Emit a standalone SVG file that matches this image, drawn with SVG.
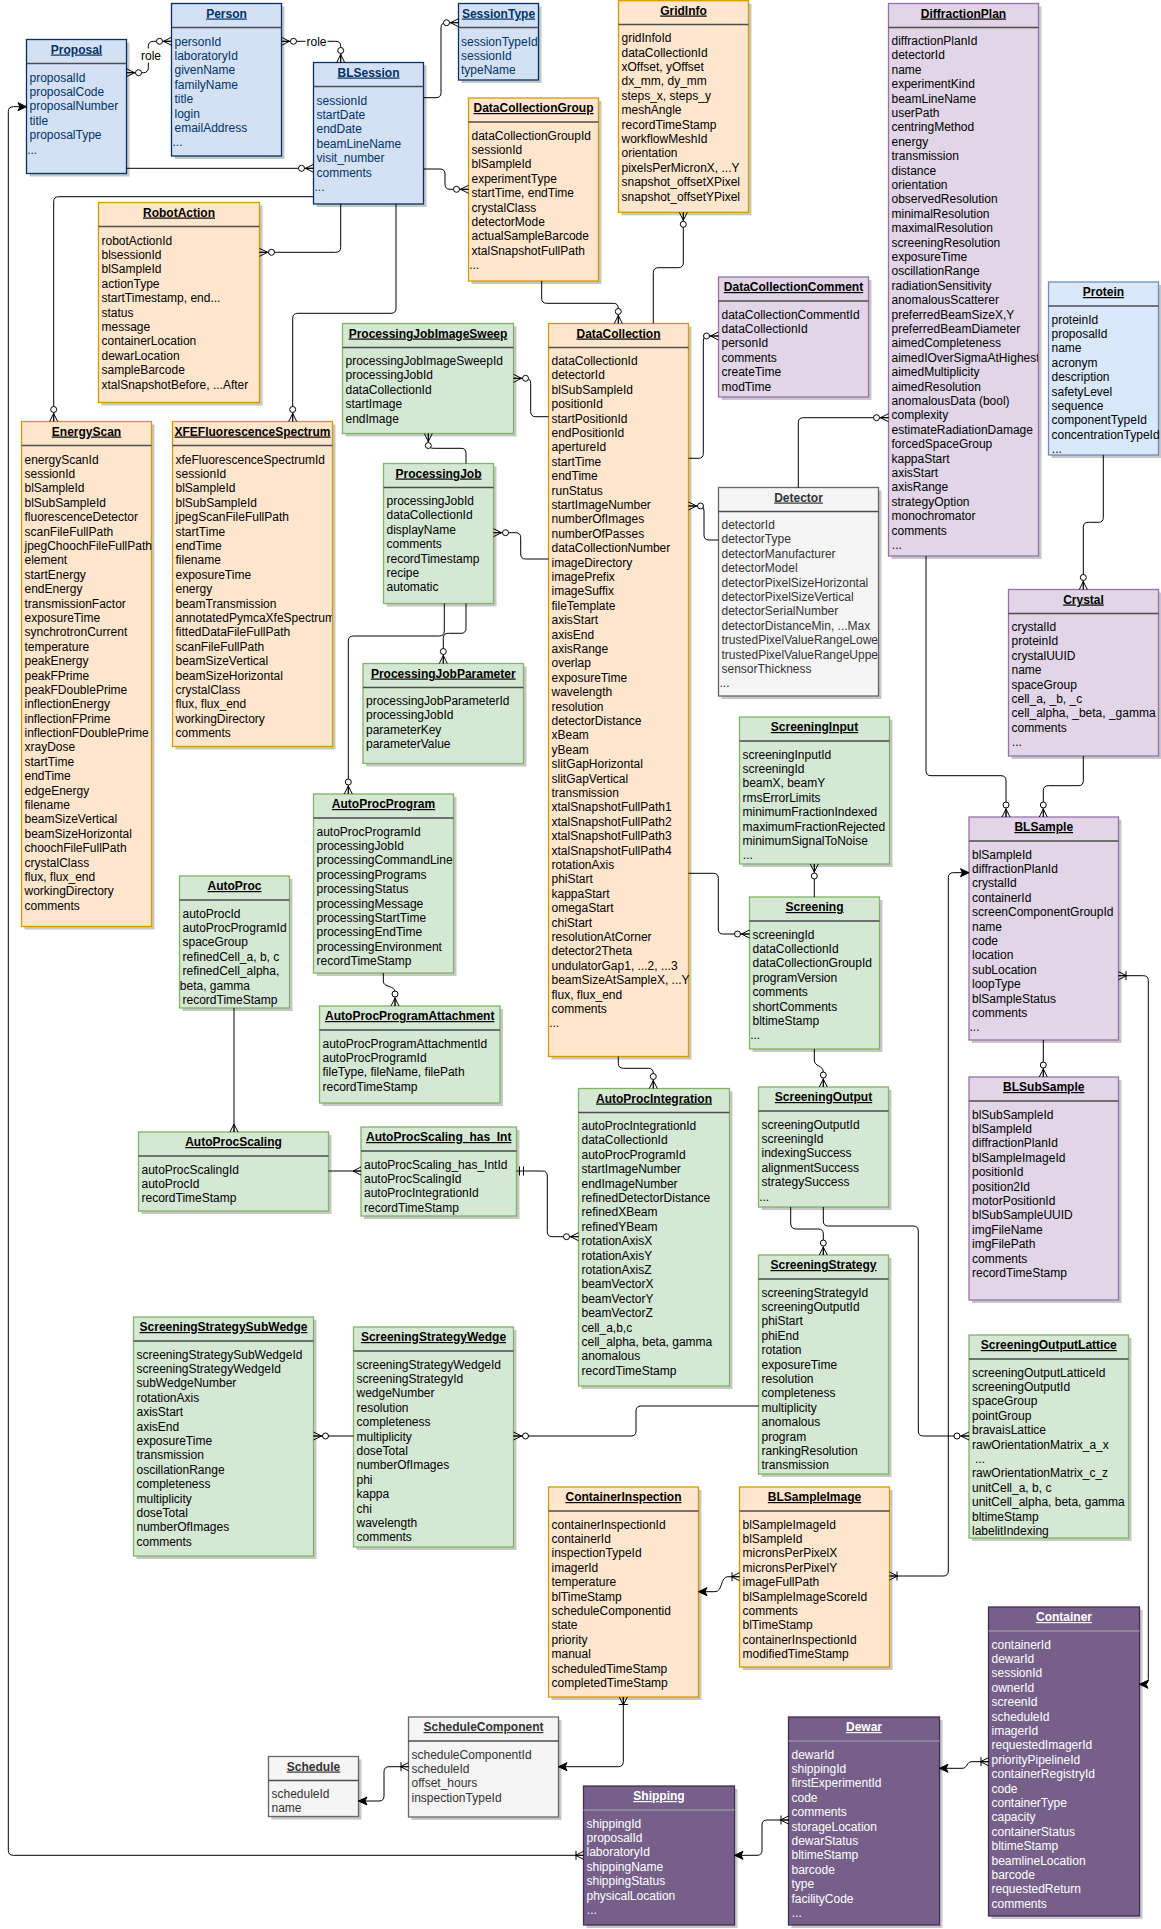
<svg xmlns="http://www.w3.org/2000/svg" width="1161" height="1929" viewBox="0 0 1161 1929">
<style>
text{font-family:"Liberation Sans",Arial,Helvetica,sans-serif;font-size:12px}
.ti{font-weight:bold;text-anchor:middle;text-decoration:underline}
.sh{fill:#000;opacity:.22}
.bx{stroke-width:1.3}
.sp{stroke:#4d4d4d;stroke-width:1.3}
.blue .bx{fill:#d4e1f5;stroke:#003366}.blue text{fill:#003366}
.lblue .bx{fill:#dae8fc;stroke:#6c8ebf}
.orange .bx{fill:#ffe6cc;stroke:#d79b00}
.green .bx{fill:#d5e8d4;stroke:#82b366}
.purple .bx{fill:#e1d5e7;stroke:#9673a6}
.gray .bx{fill:#f5f5f5;stroke:#666}.gray text{fill:#333}
.dpurple .bx{fill:#76608a;stroke:#432d57}.dpurple text{fill:#fff}.dpurple .sp{stroke:#9a8fa6}
.cn path{fill:none;stroke:#000;stroke-width:1}
.mk{fill:none;stroke:#000;stroke-width:1}
.lbbg{fill:#fff}
.lb{text-anchor:middle;fill:#000}
</style>
<defs>
<marker id="zm" markerUnits="userSpaceOnUse" orient="auto-start-reverse" viewBox="-20 -10 24 20" markerWidth="24" markerHeight="20" refX="0" refY="0" overflow="visible">
<path class="mk" d="M0,-4 L-8,0 L0,4 M-8,0 L0,0"/><circle cx="-12" cy="0" r="3" fill="#fff" stroke="#000" stroke-width="1"/>
</marker>
<marker id="om" markerUnits="userSpaceOnUse" orient="auto-start-reverse" viewBox="-20 -10 24 20" markerWidth="24" markerHeight="20" refX="0" refY="0" overflow="visible">
<path class="mk" d="M0,-4 L-8,0 L0,4 M-8,0 L0,0 M-7.5,-4.5 L-7.5,4.5"/>
</marker>
<marker id="mo" markerUnits="userSpaceOnUse" orient="auto-start-reverse" viewBox="-20 -10 24 20" markerWidth="24" markerHeight="20" refX="0" refY="0" overflow="visible">
<path class="mk" d="M-3,-4.5 L-3,4.5 M-7,-4.5 L-7,4.5"/>
</marker>
<marker id="mn" markerUnits="userSpaceOnUse" orient="auto-start-reverse" viewBox="-20 -10 24 20" markerWidth="24" markerHeight="20" refX="0" refY="0" overflow="visible">
<path class="mk" d="M0,-4 L-8,0 L0,4 M-8,0 L0,0"/>
</marker>
<marker id="ar" markerUnits="userSpaceOnUse" orient="auto-start-reverse" viewBox="-20 -10 24 20" markerWidth="24" markerHeight="20" refX="0" refY="0" overflow="visible">
<path d="M0,0 L-8.5,-4 L-6.5,0 L-8.5,4 Z" fill="#000" stroke="#000" stroke-width="1"/>
</marker>
<clipPath id="cXFE"><rect x="172.5" y="446" width="159.5" height="300"/></clipPath>
<clipPath id="cDP"><rect x="888.5" y="28" width="149.5" height="527"/></clipPath>
<clipPath id="cDet"><rect x="718.5" y="512" width="159.5" height="183"/></clipPath>
</defs>
<rect width="1161" height="1929" fill="#fff"/>

<g id="nodes">
<g id="Proposal" class="blue">
<rect class="sh" x="29.5" y="42.5" width="100" height="134"/><rect class="bx" x="26.5" y="39.5" width="100" height="134"/>
<line class="sp" x1="26.5" y1="63.5" x2="126.5" y2="63.5"/>
<text class="ti" x="76.5" y="53.5">Proposal</text>
<text x="29.5" y="81.5"><tspan>proposalId</tspan><tspan x="29.5" dy="14.4">proposalCode</tspan><tspan x="29.5" dy="14.4">proposalNumber</tspan><tspan x="29.5" dy="14.4">title</tspan><tspan x="29.5" dy="14.4">proposalType</tspan><tspan x="27.2" dy="14.4">...</tspan></text>
</g>
<g id="Person" class="blue">
<rect class="sh" x="174.5" y="6.5" width="110" height="152.5"/><rect class="bx" x="171.5" y="3.5" width="110" height="152.5"/>
<line class="sp" x1="171.5" y1="27.5" x2="281.5" y2="27.5"/>
<text class="ti" x="226.5" y="17.5">Person</text>
<text x="174.5" y="45.5"><tspan>personId</tspan><tspan x="174.5" dy="14.4">laboratoryId</tspan><tspan x="174.5" dy="14.4">givenName</tspan><tspan x="174.5" dy="14.4">familyName</tspan><tspan x="174.5" dy="14.4">title</tspan><tspan x="174.5" dy="14.4">login</tspan><tspan x="174.5" dy="14.4">emailAddress</tspan><tspan x="172.5" dy="14.4">...</tspan></text>
</g>
<g id="BLSession" class="blue">
<rect class="sh" x="316.5" y="65.5" width="110" height="141.5"/><rect class="bx" x="313.5" y="62.5" width="110" height="141.5"/>
<line class="sp" x1="313.5" y1="86.5" x2="423.5" y2="86.5"/>
<text class="ti" x="368.5" y="76.5">BLSession</text>
<text x="316.5" y="104.5"><tspan>sessionId</tspan><tspan x="316.5" dy="14.4">startDate</tspan><tspan x="316.5" dy="14.4">endDate</tspan><tspan x="316.5" dy="14.4">beamLineName</tspan><tspan x="316.5" dy="14.4">visit_number</tspan><tspan x="316.5" dy="14.4">comments</tspan><tspan x="314.5" dy="14.4">...</tspan></text>
</g>
<g id="SessionType" class="blue">
<rect class="sh" x="461.5" y="6.5" width="80" height="76.5"/><rect class="bx" x="458.5" y="3.5" width="80" height="76.5"/>
<line class="sp" x1="458.5" y1="27.5" x2="538.5" y2="27.5"/>
<text class="ti" x="498.5" y="17.5">SessionType</text>
<text x="461" y="45.5"><tspan>sessionTypeId</tspan><tspan x="461" dy="14.4">sessionId</tspan><tspan x="461" dy="14.4">typeName</tspan></text>
</g>
<g id="RobotAction" class="orange">
<rect class="sh" x="101.5" y="205.5" width="161" height="200"/><rect class="bx" x="98.5" y="202.5" width="161" height="200"/>
<line class="sp" x1="98.5" y1="226.5" x2="259.5" y2="226.5"/>
<text class="ti" x="179" y="216.5">RobotAction</text>
<text x="101.5" y="244.5"><tspan>robotActionId</tspan><tspan x="101.5" dy="14.4">blsessionId</tspan><tspan x="101.5" dy="14.4">blSampleId</tspan><tspan x="101.5" dy="14.4">actionType</tspan><tspan x="101.5" dy="14.4">startTimestamp, end...</tspan><tspan x="101.5" dy="14.4">status</tspan><tspan x="101.5" dy="14.4">message</tspan><tspan x="101.5" dy="14.4">containerLocation</tspan><tspan x="101.5" dy="14.4">dewarLocation</tspan><tspan x="101.5" dy="14.4">sampleBarcode</tspan><tspan x="101.5" dy="14.4">xtalSnapshotBefore, ...After</tspan></text>
</g>
<g id="EnergyScan" class="orange">
<rect class="sh" x="24.5" y="424.5" width="130" height="505"/><rect class="bx" x="21.5" y="421.5" width="130" height="505"/>
<line class="sp" x1="21.5" y1="445.5" x2="151.5" y2="445.5"/>
<text class="ti" x="86.5" y="435.5">EnergyScan</text>
<text x="24.5" y="463.5"><tspan>energyScanId</tspan><tspan x="24.5" dy="14.4">sessionId</tspan><tspan x="24.5" dy="14.4">blSampleId</tspan><tspan x="24.5" dy="14.4">blSubSampleId</tspan><tspan x="24.5" dy="14.4">fluorescenceDetector</tspan><tspan x="24.5" dy="14.4">scanFileFullPath</tspan><tspan x="24.5" dy="14.4">jpegChoochFileFullPath</tspan><tspan x="24.5" dy="14.4">element</tspan><tspan x="24.5" dy="14.4">startEnergy</tspan><tspan x="24.5" dy="14.4">endEnergy</tspan><tspan x="24.5" dy="14.4">transmissionFactor</tspan><tspan x="24.5" dy="14.4">exposureTime</tspan><tspan x="24.5" dy="14.4">synchrotronCurrent</tspan><tspan x="24.5" dy="14.4">temperature</tspan><tspan x="24.5" dy="14.4">peakEnergy</tspan><tspan x="24.5" dy="14.4">peakFPrime</tspan><tspan x="24.5" dy="14.4">peakFDoublePrime</tspan><tspan x="24.5" dy="14.4">inflectionEnergy</tspan><tspan x="24.5" dy="14.4">inflectionFPrime</tspan><tspan x="24.5" dy="14.4">inflectionFDoublePrime</tspan><tspan x="24.5" dy="14.4">xrayDose</tspan><tspan x="24.5" dy="14.4">startTime</tspan><tspan x="24.5" dy="14.4">endTime</tspan><tspan x="24.5" dy="14.4">edgeEnergy</tspan><tspan x="24.5" dy="14.4">filename</tspan><tspan x="24.5" dy="14.4">beamSizeVertical</tspan><tspan x="24.5" dy="14.4">beamSizeHorizontal</tspan><tspan x="24.5" dy="14.4">choochFileFullPath</tspan><tspan x="24.5" dy="14.4">crystalClass</tspan><tspan x="24.5" dy="14.4">flux, flux_end</tspan><tspan x="24.5" dy="14.4">workingDirectory</tspan><tspan x="24.5" dy="14.4">comments</tspan></text>
</g>
<g id="XFEFluorescenceSpectrum" class="orange">
<rect class="sh" x="175.5" y="424.5" width="160" height="325"/><rect class="bx" x="172.5" y="421.5" width="160" height="325"/>
<line class="sp" x1="172.5" y1="445.5" x2="332.5" y2="445.5"/>
<text class="ti" x="252.5" y="435.5">XFEFluorescenceSpectrum</text>
<text x="175.5" y="463.5" clip-path="url(#cXFE)"><tspan>xfeFluorescenceSpectrumId</tspan><tspan x="175.5" dy="14.4">sessionId</tspan><tspan x="175.5" dy="14.4">blSampleId</tspan><tspan x="175.5" dy="14.4">blSubSampleId</tspan><tspan x="175.5" dy="14.4">jpegScanFileFullPath</tspan><tspan x="175.5" dy="14.4">startTime</tspan><tspan x="175.5" dy="14.4">endTime</tspan><tspan x="175.5" dy="14.4">filename</tspan><tspan x="175.5" dy="14.4">exposureTime</tspan><tspan x="175.5" dy="14.4">energy</tspan><tspan x="175.5" dy="14.4">beamTransmission</tspan><tspan x="175.5" dy="14.4">annotatedPymcaXfeSpectrum</tspan><tspan x="175.5" dy="14.4">fittedDataFileFullPath</tspan><tspan x="175.5" dy="14.4">scanFileFullPath</tspan><tspan x="175.5" dy="14.4">beamSizeVertical</tspan><tspan x="175.5" dy="14.4">beamSizeHorizontal</tspan><tspan x="175.5" dy="14.4">crystalClass</tspan><tspan x="175.5" dy="14.4">flux, flux_end</tspan><tspan x="175.5" dy="14.4">workingDirectory</tspan><tspan x="175.5" dy="14.4">comments</tspan></text>
</g>
<g id="DataCollectionGroup" class="orange">
<rect class="sh" x="471.5" y="101" width="130" height="183"/><rect class="bx" x="468.5" y="98" width="130" height="183"/>
<line class="sp" x1="468.5" y1="122" x2="598.5" y2="122"/>
<text class="ti" x="533.5" y="112">DataCollectionGroup</text>
<text x="471.5" y="139.5"><tspan>dataCollectionGroupId</tspan><tspan x="471.5" dy="14.4">sessionId</tspan><tspan x="471.5" dy="14.4">blSampleId</tspan><tspan x="471.5" dy="14.4">experimentType</tspan><tspan x="471.5" dy="14.4">startTime, endTime</tspan><tspan x="471.5" dy="14.4">crystalClass</tspan><tspan x="471.5" dy="14.4">detectorMode</tspan><tspan x="471.5" dy="14.4">actualSampleBarcode</tspan><tspan x="471.5" dy="14.4">xtalSnapshotFullPath</tspan><tspan x="469.2" dy="14.4">...</tspan></text>
</g>
<g id="GridInfo" class="orange">
<rect class="sh" x="621.5" y="3.7" width="130" height="211.6"/><rect class="bx" x="618.5" y="0.7" width="130" height="211.6"/>
<line class="sp" x1="618.5" y1="24.5" x2="748.5" y2="24.5"/>
<text class="ti" x="683.5" y="14.5">GridInfo</text>
<text x="621.5" y="42.2"><tspan>gridInfoId</tspan><tspan x="621.5" dy="14.4">dataCollectionId</tspan><tspan x="621.5" dy="14.4">xOffset, yOffset</tspan><tspan x="621.5" dy="14.4">dx_mm, dy_mm</tspan><tspan x="621.5" dy="14.4">steps_x, steps_y</tspan><tspan x="621.5" dy="14.4">meshAngle</tspan><tspan x="621.5" dy="14.4">recordTimeStamp</tspan><tspan x="621.5" dy="14.4">workflowMeshId</tspan><tspan x="621.5" dy="14.4">orientation</tspan><tspan x="621.5" dy="14.4">pixelsPerMicronX, ...Y</tspan><tspan x="621.5" dy="14.4">snapshot_offsetXPixel</tspan><tspan x="621.5" dy="14.4">snapshot_offsetYPixel</tspan></text>
</g>
<g id="DataCollection" class="orange">
<rect class="sh" x="551.5" y="326.5" width="140" height="733"/><rect class="bx" x="548.5" y="323.5" width="140" height="733"/>
<line class="sp" x1="548.5" y1="347.5" x2="688.5" y2="347.5"/>
<text class="ti" x="618.5" y="337.5">DataCollection</text>
<text x="551.5" y="365"><tspan>dataCollectionId</tspan><tspan x="551.5" dy="14.4">detectorId</tspan><tspan x="551.5" dy="14.4">blSubSampleId</tspan><tspan x="551.5" dy="14.4">positionId</tspan><tspan x="551.5" dy="14.4">startPositionId</tspan><tspan x="551.5" dy="14.4">endPositionId</tspan><tspan x="551.5" dy="14.4">apertureId</tspan><tspan x="551.5" dy="14.4">startTime</tspan><tspan x="551.5" dy="14.4">endTime</tspan><tspan x="551.5" dy="14.4">runStatus</tspan><tspan x="551.5" dy="14.4">startImageNumber</tspan><tspan x="551.5" dy="14.4">numberOfImages</tspan><tspan x="551.5" dy="14.4">numberOfPasses</tspan><tspan x="551.5" dy="14.4">dataCollectionNumber</tspan><tspan x="551.5" dy="14.4">imageDirectory</tspan><tspan x="551.5" dy="14.4">imagePrefix</tspan><tspan x="551.5" dy="14.4">imageSuffix</tspan><tspan x="551.5" dy="14.4">fileTemplate</tspan><tspan x="551.5" dy="14.4">axisStart</tspan><tspan x="551.5" dy="14.4">axisEnd</tspan><tspan x="551.5" dy="14.4">axisRange</tspan><tspan x="551.5" dy="14.4">overlap</tspan><tspan x="551.5" dy="14.4">exposureTime</tspan><tspan x="551.5" dy="14.4">wavelength</tspan><tspan x="551.5" dy="14.4">resolution</tspan><tspan x="551.5" dy="14.4">detectorDistance</tspan><tspan x="551.5" dy="14.4">xBeam</tspan><tspan x="551.5" dy="14.4">yBeam</tspan><tspan x="551.5" dy="14.4">slitGapHorizontal</tspan><tspan x="551.5" dy="14.4">slitGapVertical</tspan><tspan x="551.5" dy="14.4">transmission</tspan><tspan x="551.5" dy="14.4">xtalSnapshotFullPath1</tspan><tspan x="551.5" dy="14.4">xtalSnapshotFullPath2</tspan><tspan x="551.5" dy="14.4">xtalSnapshotFullPath3</tspan><tspan x="551.5" dy="14.4">xtalSnapshotFullPath4</tspan><tspan x="551.5" dy="14.4">rotationAxis</tspan><tspan x="551.5" dy="14.4">phiStart</tspan><tspan x="551.5" dy="14.4">kappaStart</tspan><tspan x="551.5" dy="14.4">omegaStart</tspan><tspan x="551.5" dy="14.4">chiStart</tspan><tspan x="551.5" dy="14.4">resolutionAtCorner</tspan><tspan x="551.5" dy="14.4">detector2Theta</tspan><tspan x="551.5" dy="14.4">undulatorGap1, ...2, ...3</tspan><tspan x="551.5" dy="14.4">beamSizeAtSampleX, ...Y</tspan><tspan x="551.5" dy="14.4">flux, flux_end</tspan><tspan x="551.5" dy="14.4">comments</tspan><tspan x="549.2" dy="14.4">...</tspan></text>
</g>
<g id="DataCollectionComment" class="purple">
<rect class="sh" x="721.5" y="280" width="150" height="120"/><rect class="bx" x="718.5" y="277" width="150" height="120"/>
<line class="sp" x1="718.5" y1="301" x2="868.5" y2="301"/>
<text class="ti" x="793.5" y="291">DataCollectionComment</text>
<text x="721.5" y="318.5"><tspan>dataCollectionCommentId</tspan><tspan x="721.5" dy="14.4">dataCollectionId</tspan><tspan x="721.5" dy="14.4">personId</tspan><tspan x="721.5" dy="14.4">comments</tspan><tspan x="721.5" dy="14.4">createTime</tspan><tspan x="721.5" dy="14.4">modTime</tspan></text>
</g>
<g id="DiffractionPlan" class="purple">
<rect class="sh" x="891.5" y="6.5" width="150" height="552.5"/><rect class="bx" x="888.5" y="3.5" width="150" height="552.5"/>
<line class="sp" x1="888.5" y1="27.5" x2="1038.5" y2="27.5"/>
<text class="ti" x="963.5" y="17.5">DiffractionPlan</text>
<text x="891.5" y="45" clip-path="url(#cDP)"><tspan>diffractionPlanId</tspan><tspan x="891.5" dy="14.4">detectorId</tspan><tspan x="891.5" dy="14.4">name</tspan><tspan x="891.5" dy="14.4">experimentKind</tspan><tspan x="891.5" dy="14.4">beamLineName</tspan><tspan x="891.5" dy="14.4">userPath</tspan><tspan x="891.5" dy="14.4">centringMethod</tspan><tspan x="891.5" dy="14.4">energy</tspan><tspan x="891.5" dy="14.4">transmission</tspan><tspan x="891.5" dy="14.4">distance</tspan><tspan x="891.5" dy="14.4">orientation</tspan><tspan x="891.5" dy="14.4">observedResolution</tspan><tspan x="891.5" dy="14.4">minimalResolution</tspan><tspan x="891.5" dy="14.4">maximalResolution</tspan><tspan x="891.5" dy="14.4">screeningResolution</tspan><tspan x="891.5" dy="14.4">exposureTime</tspan><tspan x="891.5" dy="14.4">oscillationRange</tspan><tspan x="891.5" dy="14.4">radiationSensitivity</tspan><tspan x="891.5" dy="14.4">anomalousScatterer</tspan><tspan x="891.5" dy="14.4">preferredBeamSizeX,Y</tspan><tspan x="891.5" dy="14.4">preferredBeamDiameter</tspan><tspan x="891.5" dy="14.4">aimedCompleteness</tspan><tspan x="891.5" dy="14.4">aimedIOverSigmaAtHighest</tspan><tspan x="891.5" dy="14.4">aimedMultiplicity</tspan><tspan x="891.5" dy="14.4">aimedResolution</tspan><tspan x="891.5" dy="14.4">anomalousData (bool)</tspan><tspan x="891.5" dy="14.4">complexity</tspan><tspan x="891.5" dy="14.4">estimateRadiationDamage</tspan><tspan x="891.5" dy="14.4">forcedSpaceGroup</tspan><tspan x="891.5" dy="14.4">kappaStart</tspan><tspan x="891.5" dy="14.4">axisStart</tspan><tspan x="891.5" dy="14.4">axisRange</tspan><tspan x="891.5" dy="14.4">strategyOption</tspan><tspan x="891.5" dy="14.4">monochromator</tspan><tspan x="891.5" dy="14.4">comments</tspan><tspan x="891.8" dy="14.4">...</tspan></text>
</g>
<g id="Protein" class="lblue">
<rect class="sh" x="1051.5" y="285" width="110" height="173"/><rect class="bx" x="1048.5" y="282" width="110" height="173"/>
<line class="sp" x1="1048.5" y1="306" x2="1158.5" y2="306"/>
<text class="ti" x="1103.5" y="296">Protein</text>
<text x="1051.5" y="323.5"><tspan>proteinId</tspan><tspan x="1051.5" dy="14.4">proposalId</tspan><tspan x="1051.5" dy="14.4">name</tspan><tspan x="1051.5" dy="14.4">acronym</tspan><tspan x="1051.5" dy="14.4">description</tspan><tspan x="1051.5" dy="14.4">safetyLevel</tspan><tspan x="1051.5" dy="14.4">sequence</tspan><tspan x="1051.5" dy="14.4">componentTypeId</tspan><tspan x="1051.5" dy="14.4">concentrationTypeId</tspan><tspan x="1051.8" dy="14.4">...</tspan></text>
</g>
<g id="ProcessingJobImageSweep" class="green">
<rect class="sh" x="345.5" y="326.5" width="171" height="110"/><rect class="bx" x="342.5" y="323.5" width="171" height="110"/>
<line class="sp" x1="342.5" y1="347.5" x2="513.5" y2="347.5"/>
<text class="ti" x="428" y="337.5">ProcessingJobImageSweep</text>
<text x="345.5" y="365"><tspan>processingJobImageSweepId</tspan><tspan x="345.5" dy="14.4">processingJobId</tspan><tspan x="345.5" dy="14.4">dataCollectionId</tspan><tspan x="345.5" dy="14.4">startImage</tspan><tspan x="345.5" dy="14.4">endImage</tspan></text>
</g>
<g id="ProcessingJob" class="green">
<rect class="sh" x="386.5" y="466.5" width="110" height="140"/><rect class="bx" x="383.5" y="463.5" width="110" height="140"/>
<line class="sp" x1="383.5" y1="487.5" x2="493.5" y2="487.5"/>
<text class="ti" x="438.5" y="477.5">ProcessingJob</text>
<text x="386.5" y="505"><tspan>processingJobId</tspan><tspan x="386.5" dy="14.4">dataCollectionId</tspan><tspan x="386.5" dy="14.4">displayName</tspan><tspan x="386.5" dy="14.4">comments</tspan><tspan x="386.5" dy="14.4">recordTimestamp</tspan><tspan x="386.5" dy="14.4">recipe</tspan><tspan x="386.5" dy="14.4">automatic</tspan></text>
</g>
<g id="ProcessingJobParameter" class="green">
<rect class="sh" x="366" y="666.5" width="160.5" height="100"/><rect class="bx" x="363" y="663.5" width="160.5" height="100"/>
<line class="sp" x1="363" y1="687.5" x2="523.5" y2="687.5"/>
<text class="ti" x="443.25" y="677.5">ProcessingJobParameter</text>
<text x="366" y="705"><tspan>processingJobParameterId</tspan><tspan x="366" dy="14.4">processingJobId</tspan><tspan x="366" dy="14.4">parameterKey</tspan><tspan x="366" dy="14.4">parameterValue</tspan></text>
</g>
<g id="Detector" class="gray">
<rect class="sh" x="721.5" y="490.5" width="160" height="208.5"/><rect class="bx" x="718.5" y="487.5" width="160" height="208.5"/>
<line class="sp" x1="718.5" y1="511.5" x2="878.5" y2="511.5"/>
<text class="ti" x="798.5" y="501.5">Detector</text>
<text x="721.5" y="529" clip-path="url(#cDet)"><tspan>detectorId</tspan><tspan x="721.5" dy="14.4">detectorType</tspan><tspan x="721.5" dy="14.4">detectorManufacturer</tspan><tspan x="721.5" dy="14.4">detectorModel</tspan><tspan x="721.5" dy="14.4">detectorPixelSizeHorizontal</tspan><tspan x="721.5" dy="14.4">detectorPixelSizeVertical</tspan><tspan x="721.5" dy="14.4">detectorSerialNumber</tspan><tspan x="721.5" dy="14.4">detectorDistanceMin, ...Max</tspan><tspan x="721.5" dy="14.4">trustedPixelValueRangeLower</tspan><tspan x="721.5" dy="14.4">trustedPixelValueRangeUpper</tspan><tspan x="721.5" dy="14.4">sensorThickness</tspan><tspan x="719.5" dy="14.4">...</tspan></text>
</g>
<g id="ScreeningInput" class="green">
<rect class="sh" x="742.5" y="720" width="150" height="147"/><rect class="bx" x="739.5" y="717" width="150" height="147"/>
<line class="sp" x1="739.5" y1="741" x2="889.5" y2="741"/>
<text class="ti" x="814.5" y="731">ScreeningInput</text>
<text x="742.5" y="758.5"><tspan>screeningInputId</tspan><tspan x="742.5" dy="14.4">screeningId</tspan><tspan x="742.5" dy="14.4">beamX, beamY</tspan><tspan x="742.5" dy="14.4">rmsErrorLimits</tspan><tspan x="742.5" dy="14.4">minimumFractionIndexed</tspan><tspan x="742.5" dy="14.4">maximumFractionRejected</tspan><tspan x="742.5" dy="14.4">minimumSignalToNoise</tspan><tspan x="742.8" dy="14.4">...</tspan></text>
</g>
<g id="Screening" class="green">
<rect class="sh" x="752.5" y="900" width="130" height="152"/><rect class="bx" x="749.5" y="897" width="130" height="152"/>
<line class="sp" x1="749.5" y1="921" x2="879.5" y2="921"/>
<text class="ti" x="814.5" y="911">Screening</text>
<text x="752.5" y="938.5"><tspan>screeningId</tspan><tspan x="752.5" dy="14.4">dataCollectionId</tspan><tspan x="752.5" dy="14.4">dataCollectionGroupId</tspan><tspan x="752.5" dy="14.4">programVersion</tspan><tspan x="752.5" dy="14.4">comments</tspan><tspan x="752.5" dy="14.4">shortComments</tspan><tspan x="752.5" dy="14.4">bltimeStamp</tspan><tspan x="750.2" dy="14.4">...</tspan></text>
</g>
<g id="Crystal" class="purple">
<rect class="sh" x="1011.5" y="592.5" width="150" height="166.5"/><rect class="bx" x="1008.5" y="589.5" width="150" height="166.5"/>
<line class="sp" x1="1008.5" y1="613.5" x2="1158.5" y2="613.5"/>
<text class="ti" x="1083.5" y="603.5">Crystal</text>
<text x="1011.5" y="631"><tspan>crystalId</tspan><tspan x="1011.5" dy="14.4">proteinId</tspan><tspan x="1011.5" dy="14.4">crystalUUID</tspan><tspan x="1011.5" dy="14.4">name</tspan><tspan x="1011.5" dy="14.4">spaceGroup</tspan><tspan x="1011.5" dy="14.4">cell_a, _b, _c</tspan><tspan x="1011.5" dy="14.4">cell_alpha, _beta, _gamma</tspan><tspan x="1011.5" dy="14.4">comments</tspan><tspan x="1011.8" dy="14.4">...</tspan></text>
</g>
<g id="BLSample" class="purple">
<rect class="sh" x="972" y="820" width="149.5" height="223"/><rect class="bx" x="969" y="817" width="149.5" height="223"/>
<line class="sp" x1="969" y1="841" x2="1118.5" y2="841"/>
<text class="ti" x="1043.75" y="831">BLSample</text>
<text x="972" y="858.5"><tspan>blSampleId</tspan><tspan x="972" dy="14.4">diffractionPlanId</tspan><tspan x="972" dy="14.4">crystalId</tspan><tspan x="972" dy="14.4">containerId</tspan><tspan x="972" dy="14.4">screenComponentGroupId</tspan><tspan x="972" dy="14.4">name</tspan><tspan x="972" dy="14.4">code</tspan><tspan x="972" dy="14.4">location</tspan><tspan x="972" dy="14.4">subLocation</tspan><tspan x="972" dy="14.4">loopType</tspan><tspan x="972" dy="14.4">blSampleStatus</tspan><tspan x="972" dy="14.4">comments</tspan><tspan x="969.5" dy="14.4">...</tspan></text>
</g>
<g id="BLSubSample" class="purple">
<rect class="sh" x="972" y="1080" width="149.5" height="223"/><rect class="bx" x="969" y="1077" width="149.5" height="223"/>
<line class="sp" x1="969" y1="1101" x2="1118.5" y2="1101"/>
<text class="ti" x="1043.75" y="1091">BLSubSample</text>
<text x="972" y="1118.5"><tspan>blSubSampleId</tspan><tspan x="972" dy="14.4">blSampleId</tspan><tspan x="972" dy="14.4">diffractionPlanId</tspan><tspan x="972" dy="14.4">blSampleImageId</tspan><tspan x="972" dy="14.4">positionId</tspan><tspan x="972" dy="14.4">position2Id</tspan><tspan x="972" dy="14.4">motorPositionId</tspan><tspan x="972" dy="14.4">blSubSampleUUID</tspan><tspan x="972" dy="14.4">imgFileName</tspan><tspan x="972" dy="14.4">imgFilePath</tspan><tspan x="972" dy="14.4">comments</tspan><tspan x="972" dy="14.4">recordTimeStamp</tspan></text>
</g>
<g id="AutoProc" class="green">
<rect class="sh" x="182.5" y="879" width="110" height="132"/><rect class="bx" x="179.5" y="876" width="110" height="132"/>
<line class="sp" x1="179.5" y1="900" x2="289.5" y2="900"/>
<text class="ti" x="234.5" y="890">AutoProc</text>
<text x="182.5" y="917.5"><tspan>autoProcId</tspan><tspan x="182.5" dy="14.4">autoProcProgramId</tspan><tspan x="182.5" dy="14.4">spaceGroup</tspan><tspan x="182.5" dy="14.4">refinedCell_a, b, c</tspan><tspan x="182.5" dy="14.4">refinedCell_alpha,</tspan><tspan x="179.8" dy="14.4">beta, gamma</tspan><tspan x="182.5" dy="14.4">recordTimeStamp</tspan></text>
</g>
<g id="AutoProcProgram" class="green">
<rect class="sh" x="316.5" y="797" width="140" height="179"/><rect class="bx" x="313.5" y="794" width="140" height="179"/>
<line class="sp" x1="313.5" y1="818" x2="453.5" y2="818"/>
<text class="ti" x="383.5" y="808">AutoProcProgram</text>
<text x="316.5" y="835.5"><tspan>autoProcProgramId</tspan><tspan x="316.5" dy="14.4">processingJobId</tspan><tspan x="316.5" dy="14.4">processingCommandLine</tspan><tspan x="316.5" dy="14.4">processingPrograms</tspan><tspan x="316.5" dy="14.4">processingStatus</tspan><tspan x="316.5" dy="14.4">processingMessage</tspan><tspan x="316.5" dy="14.4">processingStartTime</tspan><tspan x="316.5" dy="14.4">processingEndTime</tspan><tspan x="316.5" dy="14.4">processingEnvironment</tspan><tspan x="316.5" dy="14.4">recordTimeStamp</tspan></text>
</g>
<g id="AutoProcProgramAttachment" class="green">
<rect class="sh" x="322.5" y="1009" width="180.5" height="97"/><rect class="bx" x="319.5" y="1006" width="180.5" height="97"/>
<line class="sp" x1="319.5" y1="1030" x2="500" y2="1030"/>
<text class="ti" x="409.75" y="1020">AutoProcProgramAttachment</text>
<text x="322.5" y="1047.5"><tspan>autoProcProgramAttachmentId</tspan><tspan x="322.5" dy="14.4">autoProcProgramId</tspan><tspan x="322.5" dy="14.4">fileType, fileName, filePath</tspan><tspan x="322.5" dy="14.4">recordTimeStamp</tspan></text>
</g>
<g id="AutoProcScaling" class="green">
<rect class="sh" x="141.5" y="1135" width="190" height="79"/><rect class="bx" x="138.5" y="1132" width="190" height="79"/>
<line class="sp" x1="138.5" y1="1156" x2="328.5" y2="1156"/>
<text class="ti" x="233.5" y="1146">AutoProcScaling</text>
<text x="141.5" y="1173.5"><tspan>autoProcScalingId</tspan><tspan x="141.5" dy="14.4">autoProcId</tspan><tspan x="141.5" dy="14.4">recordTimeStamp</tspan></text>
</g>
<g id="AutoProcScaling_has_Int" class="green">
<rect class="sh" x="364" y="1130" width="155.5" height="89"/><rect class="bx" x="361" y="1127" width="155.5" height="89"/>
<line class="sp" x1="361" y1="1151" x2="516.5" y2="1151"/>
<text class="ti" x="438.75" y="1141">AutoProcScaling_has_Int</text>
<text x="364" y="1168.5"><tspan>autoProcScaling_has_IntId</tspan><tspan x="364" dy="14.4">autoProcScalingId</tspan><tspan x="364" dy="14.4">autoProcIntegrationId</tspan><tspan x="364" dy="14.4">recordTimeStamp</tspan></text>
</g>
<g id="AutoProcIntegration" class="green">
<rect class="sh" x="581.5" y="1091.5" width="151" height="297.5"/><rect class="bx" x="578.5" y="1088.5" width="151" height="297.5"/>
<line class="sp" x1="578.5" y1="1112.5" x2="729.5" y2="1112.5"/>
<text class="ti" x="654" y="1102.5">AutoProcIntegration</text>
<text x="581.5" y="1130"><tspan>autoProcIntegrationId</tspan><tspan x="581.5" dy="14.4">dataCollectionId</tspan><tspan x="581.5" dy="14.4">autoProcProgramId</tspan><tspan x="581.5" dy="14.4">startImageNumber</tspan><tspan x="581.5" dy="14.4">endImageNumber</tspan><tspan x="581.5" dy="14.4">refinedDetectorDistance</tspan><tspan x="581.5" dy="14.4">refinedXBeam</tspan><tspan x="581.5" dy="14.4">refinedYBeam</tspan><tspan x="581.5" dy="14.4">rotationAxisX</tspan><tspan x="581.5" dy="14.4">rotationAxisY</tspan><tspan x="581.5" dy="14.4">rotationAxisZ</tspan><tspan x="581.5" dy="14.4">beamVectorX</tspan><tspan x="581.5" dy="14.4">beamVectorY</tspan><tspan x="581.5" dy="14.4">beamVectorZ</tspan><tspan x="581.5" dy="14.4">cell_a,b,c</tspan><tspan x="581.5" dy="14.4">cell_alpha, beta, gamma</tspan><tspan x="581.5" dy="14.4">anomalous</tspan><tspan x="581.5" dy="14.4">recordTimeStamp</tspan></text>
</g>
<g id="ScreeningOutput" class="green">
<rect class="sh" x="761.5" y="1090" width="130" height="120"/><rect class="bx" x="758.5" y="1087" width="130" height="120"/>
<line class="sp" x1="758.5" y1="1111" x2="888.5" y2="1111"/>
<text class="ti" x="823.5" y="1101">ScreeningOutput</text>
<text x="761.5" y="1128.5"><tspan>screeningOutputId</tspan><tspan x="761.5" dy="14.4">screeningId</tspan><tspan x="761.5" dy="14.4">indexingSuccess</tspan><tspan x="761.5" dy="14.4">alignmentSuccess</tspan><tspan x="761.5" dy="14.4">strategySuccess</tspan><tspan x="759.2" dy="14.4">...</tspan></text>
</g>
<g id="ScreeningStrategy" class="green">
<rect class="sh" x="761.5" y="1258" width="130" height="219"/><rect class="bx" x="758.5" y="1255" width="130" height="219"/>
<line class="sp" x1="758.5" y1="1279" x2="888.5" y2="1279"/>
<text class="ti" x="823.5" y="1269">ScreeningStrategy</text>
<text x="761.5" y="1296.5"><tspan>screeningStrategyId</tspan><tspan x="761.5" dy="14.4">screeningOutputId</tspan><tspan x="761.5" dy="14.4">phiStart</tspan><tspan x="761.5" dy="14.4">phiEnd</tspan><tspan x="761.5" dy="14.4">rotation</tspan><tspan x="761.5" dy="14.4">exposureTime</tspan><tspan x="761.5" dy="14.4">resolution</tspan><tspan x="761.5" dy="14.4">completeness</tspan><tspan x="761.5" dy="14.4">multiplicity</tspan><tspan x="761.5" dy="14.4">anomalous</tspan><tspan x="761.5" dy="14.4">program</tspan><tspan x="761.5" dy="14.4">rankingResolution</tspan><tspan x="761.5" dy="14.4">transmission</tspan></text>
</g>
<g id="ScreeningOutputLattice" class="green">
<rect class="sh" x="972" y="1338" width="159.5" height="203"/><rect class="bx" x="969" y="1335" width="159.5" height="203"/>
<line class="sp" x1="969" y1="1359" x2="1128.5" y2="1359"/>
<text class="ti" x="1048.75" y="1349">ScreeningOutputLattice</text>
<text x="972" y="1376.5"><tspan>screeningOutputLatticeId</tspan><tspan x="972" dy="14.4">screeningOutputId</tspan><tspan x="972" dy="14.4">spaceGroup</tspan><tspan x="972" dy="14.4">pointGroup</tspan><tspan x="972" dy="14.4">bravaisLattice</tspan><tspan x="972" dy="14.4">rawOrientationMatrix_a_x</tspan><tspan x="975" dy="14.4">...</tspan><tspan x="972" dy="14.4">rawOrientationMatrix_c_z</tspan><tspan x="972" dy="14.4">unitCell_a, b, c</tspan><tspan x="972" dy="14.4">unitCell_alpha, beta, gamma</tspan><tspan x="972" dy="14.4">bltimeStamp</tspan><tspan x="972" dy="14.4">labelitIndexing</tspan></text>
</g>
<g id="ScreeningStrategySubWedge" class="green">
<rect class="sh" x="136.5" y="1320" width="180" height="239"/><rect class="bx" x="133.5" y="1317" width="180" height="239"/>
<line class="sp" x1="133.5" y1="1341" x2="313.5" y2="1341"/>
<text class="ti" x="223.5" y="1331">ScreeningStrategySubWedge</text>
<text x="136.5" y="1358.5"><tspan>screeningStrategySubWedgeId</tspan><tspan x="136.5" dy="14.4">screeningStrategyWedgeId</tspan><tspan x="136.5" dy="14.4">subWedgeNumber</tspan><tspan x="136.5" dy="14.4">rotationAxis</tspan><tspan x="136.5" dy="14.4">axisStart</tspan><tspan x="136.5" dy="14.4">axisEnd</tspan><tspan x="136.5" dy="14.4">exposureTime</tspan><tspan x="136.5" dy="14.4">transmission</tspan><tspan x="136.5" dy="14.4">oscillationRange</tspan><tspan x="136.5" dy="14.4">completeness</tspan><tspan x="136.5" dy="14.4">multiplicity</tspan><tspan x="136.5" dy="14.4">doseTotal</tspan><tspan x="136.5" dy="14.4">numberOfImages</tspan><tspan x="136.5" dy="14.4">comments</tspan></text>
</g>
<g id="ScreeningStrategyWedge" class="green">
<rect class="sh" x="356.5" y="1330" width="160" height="220"/><rect class="bx" x="353.5" y="1327" width="160" height="220"/>
<line class="sp" x1="353.5" y1="1351" x2="513.5" y2="1351"/>
<text class="ti" x="433.5" y="1341">ScreeningStrategyWedge</text>
<text x="356.5" y="1368.5"><tspan>screeningStrategyWedgeId</tspan><tspan x="356.5" dy="14.4">screeningStrategyId</tspan><tspan x="356.5" dy="14.4">wedgeNumber</tspan><tspan x="356.5" dy="14.4">resolution</tspan><tspan x="356.5" dy="14.4">completeness</tspan><tspan x="356.5" dy="14.4">multiplicity</tspan><tspan x="356.5" dy="14.4">doseTotal</tspan><tspan x="356.5" dy="14.4">numberOfImages</tspan><tspan x="356.5" dy="14.4">phi</tspan><tspan x="356.5" dy="14.4">kappa</tspan><tspan x="356.5" dy="14.4">chi</tspan><tspan x="356.5" dy="14.4">wavelength</tspan><tspan x="356.5" dy="14.4">comments</tspan></text>
</g>
<g id="ContainerInspection" class="orange">
<rect class="sh" x="551.5" y="1490" width="150" height="210"/><rect class="bx" x="548.5" y="1487" width="150" height="210"/>
<line class="sp" x1="548.5" y1="1511" x2="698.5" y2="1511"/>
<text class="ti" x="623.5" y="1501">ContainerInspection</text>
<text x="551.5" y="1528.5"><tspan>containerInspectionId</tspan><tspan x="551.5" dy="14.4">containerId</tspan><tspan x="551.5" dy="14.4">inspectionTypeId</tspan><tspan x="551.5" dy="14.4">imagerId</tspan><tspan x="551.5" dy="14.4">temperature</tspan><tspan x="551.5" dy="14.4">blTimeStamp</tspan><tspan x="551.5" dy="14.4">scheduleComponentid</tspan><tspan x="551.5" dy="14.4">state</tspan><tspan x="551.5" dy="14.4">priority</tspan><tspan x="551.5" dy="14.4">manual</tspan><tspan x="551.5" dy="14.4">scheduledTimeStamp</tspan><tspan x="551.5" dy="14.4">completedTimeStamp</tspan></text>
</g>
<g id="BLSampleImage" class="orange">
<rect class="sh" x="742.5" y="1490" width="150" height="180"/><rect class="bx" x="739.5" y="1487" width="150" height="180"/>
<line class="sp" x1="739.5" y1="1511" x2="889.5" y2="1511"/>
<text class="ti" x="814.5" y="1501">BLSampleImage</text>
<text x="742.5" y="1528.5"><tspan>blSampleImageId</tspan><tspan x="742.5" dy="14.4">blSampleId</tspan><tspan x="742.5" dy="14.4">micronsPerPixelX</tspan><tspan x="742.5" dy="14.4">micronsPerPixelY</tspan><tspan x="742.5" dy="14.4">imageFullPath</tspan><tspan x="742.5" dy="14.4">blSampleImageScoreId</tspan><tspan x="742.5" dy="14.4">comments</tspan><tspan x="742.5" dy="14.4">blTimeStamp</tspan><tspan x="742.5" dy="14.4">containerInspectionId</tspan><tspan x="742.5" dy="14.4">modifiedTimeStamp</tspan></text>
</g>
<g id="ScheduleComponent" class="gray">
<rect class="sh" x="411.5" y="1720" width="150" height="100"/><rect class="bx" x="408.5" y="1717" width="150" height="100"/>
<line class="sp" x1="408.5" y1="1741" x2="558.5" y2="1741"/>
<text class="ti" x="483.5" y="1731">ScheduleComponent</text>
<text x="411.5" y="1758.5"><tspan>scheduleComponentId</tspan><tspan x="411.5" dy="14.4">scheduleId</tspan><tspan x="411.5" dy="14.4">offset_hours</tspan><tspan x="411.5" dy="14.4">inspectionTypeId</tspan></text>
</g>
<g id="Schedule" class="gray">
<rect class="sh" x="271.5" y="1759.5" width="90" height="60"/><rect class="bx" x="268.5" y="1756.5" width="90" height="60"/>
<line class="sp" x1="268.5" y1="1780.5" x2="358.5" y2="1780.5"/>
<text class="ti" x="313.5" y="1770.5">Schedule</text>
<text x="271.5" y="1798"><tspan>scheduleId</tspan><tspan x="271.5" dy="14.4">name</tspan></text>
</g>
<g id="Shipping" class="dpurple">
<rect class="sh" x="586.5" y="1789" width="151" height="139"/><rect class="bx" x="583.5" y="1786" width="151" height="139"/>
<line class="sp" x1="583.5" y1="1810" x2="734.5" y2="1810"/>
<text class="ti" x="659" y="1800">Shipping</text>
<text x="586.5" y="1827.5"><tspan>shippingId</tspan><tspan x="586.5" dy="14.4">proposalId</tspan><tspan x="586.5" dy="14.4">laboratoryId</tspan><tspan x="586.5" dy="14.4">shippingName</tspan><tspan x="586.5" dy="14.4">shippingStatus</tspan><tspan x="586.5" dy="14.4">physicalLocation</tspan><tspan x="586.8" dy="14.4">...</tspan></text>
</g>
<g id="Dewar" class="dpurple">
<rect class="sh" x="791.5" y="1720" width="151" height="208"/><rect class="bx" x="788.5" y="1717" width="151" height="208"/>
<line class="sp" x1="788.5" y1="1741" x2="939.5" y2="1741"/>
<text class="ti" x="864" y="1731">Dewar</text>
<text x="791.5" y="1758.5"><tspan>dewarId</tspan><tspan x="791.5" dy="14.4">shippingId</tspan><tspan x="791.5" dy="14.4">firstExperimentId</tspan><tspan x="791.5" dy="14.4">code</tspan><tspan x="791.5" dy="14.4">comments</tspan><tspan x="791.5" dy="14.4">storageLocation</tspan><tspan x="791.5" dy="14.4">dewarStatus</tspan><tspan x="791.5" dy="14.4">bltimeStamp</tspan><tspan x="791.5" dy="14.4">barcode</tspan><tspan x="791.5" dy="14.4">type</tspan><tspan x="791.5" dy="14.4">facilityCode</tspan><tspan x="791.8" dy="14.4">...</tspan></text>
</g>
<g id="Container" class="dpurple">
<rect class="sh" x="991.5" y="1610" width="151" height="309"/><rect class="bx" x="988.5" y="1607" width="151" height="309"/>
<line class="sp" x1="988.5" y1="1631" x2="1139.5" y2="1631"/>
<text class="ti" x="1064" y="1621">Container</text>
<text x="991.5" y="1648.5"><tspan>containerId</tspan><tspan x="991.5" dy="14.4">dewarId</tspan><tspan x="991.5" dy="14.4">sessionId</tspan><tspan x="991.5" dy="14.4">ownerId</tspan><tspan x="991.5" dy="14.4">screenId</tspan><tspan x="991.5" dy="14.4">scheduleId</tspan><tspan x="991.5" dy="14.4">imagerId</tspan><tspan x="991.5" dy="14.4">requestedImagerId</tspan><tspan x="991.5" dy="14.4">priorityPipelineId</tspan><tspan x="991.5" dy="14.4">containerRegistryId</tspan><tspan x="991.5" dy="14.4">code</tspan><tspan x="991.5" dy="14.4">containerType</tspan><tspan x="991.5" dy="14.4">capacity</tspan><tspan x="991.5" dy="14.4">containerStatus</tspan><tspan x="991.5" dy="14.4">bltimeStamp</tspan><tspan x="991.5" dy="14.4">beamlineLocation</tspan><tspan x="991.5" dy="14.4">barcode</tspan><tspan x="991.5" dy="14.4">requestedReturn</tspan><tspan x="991.5" dy="14.4">comments</tspan></text>
</g>
</g>

<g id="connectors" class="cn">
<path d="M126.5,72.7 L143.3,72.7 Q148.3,72.7 148.3,67.7 L148.3,46.3 Q148.3,41.3 153.3,41.3 L171.5,41.3" marker-start="url(#zm)" marker-end="url(#zm)"/>
<path d="M281.5,41.3 L335.7,41.3 Q340.7,41.3 340.7,46.3 L340.7,62.5" marker-start="url(#zm)" marker-end="url(#zm)"/>
<path d="M126.5,168.3 L313.5,168.3" marker-end="url(#zm)"/>
<path d="M423.5,97.7 L436,97.7 Q441,97.7 441,92.7 L441,27.7 Q441,22.7 446,22.7 L458.5,22.7" marker-end="url(#zm)"/>
<path d="M423.5,169 L440,169 Q445,169 445,174 L445,184.3 Q445,189.3 450,189.3 L468.5,189.3" marker-end="url(#zm)"/>
<path d="M340.7,204 L340.7,247.3 Q340.7,252.3 335.7,252.3 L259.5,252.3" marker-end="url(#zm)"/>
<path d="M313.5,196.7 L58.7,196.7 Q53.7,196.7 53.7,201.7 L53.7,421.5" marker-end="url(#zm)"/>
<path d="M396,204 L396,308.3 Q396,313.3 391,313.3 L297.7,313.3 Q292.7,313.3 292.7,318.3 L292.7,421.5" marker-end="url(#zm)"/>
<path d="M541.7,281 L541.7,298.3 Q541.7,303.3 546.7,303.3 L613.3,303.3 Q618.3,303.3 618.3,308.3 L618.3,323.5" marker-end="url(#zm)"/>
<path d="M653.3,323.5 L653.3,272.7 Q653.3,267.7 658.3,267.7 L678.3,267.7 Q683.3,267.7 683.3,262.7 L683.3,212.3" marker-end="url(#zm)"/>
<path d="M688.5,458.3 L698.3,458.3 Q703.3,458.3 703.3,453.3 L703.3,341 Q703.3,336 708.3,336 L718.5,336" marker-end="url(#zm)"/>
<path d="M548.5,416.7 L535.7,416.7 Q530.7,416.7 530.7,411.7 L530.7,383.3 Q530.7,378.3 525.7,378.3 L513.5,378.3" marker-end="url(#zm)"/>
<path d="M466,463.5 L466,453.3 Q466,448.3 461,448.3 L433.3,448.3 Q428.3,448.3 428.3,443.3 L428.3,433.5" marker-end="url(#zm)"/>
<path d="M548.5,559 L525.7,559 Q520.7,559 520.7,554 L520.7,537.7 Q520.7,532.7 515.7,532.7 L493.5,532.7" marker-end="url(#zm)"/>
<path d="M466,603.5 L466,628.3 Q466,633.3 461,633.3 L448.3,633.3 Q443.3,633.3 443.3,638.3 L443.3,663.5" marker-end="url(#zm)"/>
<path d="M444.3,603.5 L444.3,631 Q444.3,636 439.3,636 L353.3,636 Q348.3,636 348.3,641 L348.3,794" marker-end="url(#zm)"/>
<path d="M718.5,540 L709,540 Q704,540 704,535 L704,511 Q704,506 699,506 L688.5,506" marker-end="url(#zm)"/>
<path d="M798.3,487.5 L798.3,422.7 Q798.3,417.7 803.3,417.7 L888.5,417.7" marker-end="url(#zm)"/>
<path d="M1103.3,455 L1103.3,517.3 Q1103.3,522.3 1098.3,522.3 L1088.3,522.3 Q1083.3,522.3 1083.3,527.3 L1083.3,589.5" marker-end="url(#zm)"/>
<path d="M926,556 L926,770.7 Q926,775.7 931,775.7 L1001,775.7 Q1006,775.7 1006,780.7 L1006,817" marker-end="url(#zm)"/>
<path d="M1083.3,756 L1083.3,780.7 Q1083.3,785.7 1078.3,785.7 L1048.3,785.7 Q1043.3,785.7 1043.3,790.7 L1043.3,817" marker-end="url(#zm)"/>
<path d="M1043.3,1040 L1043.3,1077" marker-end="url(#zm)"/>
<path d="M583.5,1855.3 L13.3,1855.3 Q8.3,1855.3 8.3,1850.3 L8.3,111.7 Q8.3,106.7 13.3,106.7 L26.5,106.7" marker-start="url(#om)" marker-end="url(#ar)"/>
<path d="M788.5,1820 L767,1820 Q762,1820 762,1825 L762,1850.3 Q762,1855.3 757,1855.3 L734.5,1855.3" marker-start="url(#om)" marker-end="url(#ar)"/>
<path d="M988.5,1761.7 L972,1761.7 C966,1761.7 968,1768.3 962,1768.3 L939.5,1768.3" marker-start="url(#om)" marker-end="url(#ar)"/>
<path d="M1118.5,975.7 L1143.3,975.7 Q1148.3,975.7 1148.3,980.7 L1148.3,1679.3 Q1148.3,1684.3 1143.3,1684.3 L1139.5,1684.3" marker-start="url(#om)" marker-end="url(#ar)"/>
<path d="M889.5,1576 L943.3,1576 Q948.3,1576 948.3,1571 L948.3,877.7 Q948.3,872.7 953.3,872.7 L969,872.7" marker-start="url(#om)" marker-end="url(#ar)"/>
<path d="M739.5,1576.7 L728,1576.7 C720,1576.7 723,1591.7 715,1591.7 L698.5,1591.7" marker-start="url(#om)" marker-end="url(#ar)"/>
<path d="M623.3,1697 L623.3,1761.7 Q623.3,1766.7 618.3,1766.7 L558.5,1766.7" marker-start="url(#om)" marker-end="url(#ar)"/>
<path d="M408.5,1766.7 L389,1766.7 Q384,1766.7 384,1771.7 L384,1796 Q384,1801 379,1801 L358.5,1801" marker-start="url(#om)" marker-end="url(#ar)"/>
<path d="M758.5,1406 L641,1406 Q636,1406 636,1411 L636,1431 Q636,1436 631,1436 L513.5,1436" marker-end="url(#zm)"/>
<path d="M353.5,1436 L313.5,1436" marker-end="url(#zm)"/>
<path d="M790.7,1207 L790.7,1223 Q790.7,1229 796,1229 L818.3,1229 Q823.3,1229 823.3,1234 L823.3,1255" marker-end="url(#zm)"/>
<path d="M823.3,1207 L823.3,1221 Q823.3,1226 828.3,1226 L913.3,1226 Q918.3,1226 918.3,1231 L918.3,1431 Q918.3,1436 923.3,1436 L969,1436" marker-end="url(#zm)"/>
<path d="M814.3,1049 L814.3,1060 C814.3,1067 823.3,1065 823.3,1072 L823.3,1087" marker-end="url(#zm)"/>
<path d="M814.3,897 L814.3,864" marker-end="url(#zm)"/>
<path d="M688.5,873.3 L713.3,873.3 Q718.3,873.3 718.3,878.3 L718.3,929 Q718.3,934 723.3,934 L749.5,934" marker-end="url(#zm)"/>
<path d="M618.3,1056.5 L618.3,1063.3 Q618.3,1068.3 623.3,1068.3 L648.3,1068.3 Q653.3,1068.3 653.3,1073.3 L653.3,1088.5" marker-end="url(#zm)"/>
<path d="M516.5,1171 L542.3,1171 Q547.3,1171 547.3,1176 L547.3,1231.7 Q547.3,1236.7 552.3,1236.7 L578.5,1236.7" marker-start="url(#mo)" marker-end="url(#zm)"/>
<path d="M328.5,1171 L361,1171" marker-end="url(#mn)"/>
<path d="M234,1008 L234,1132" marker-end="url(#mn)"/>
<path d="M383.3,973 L383.3,981 C383.3,988 395,985 395,992 L395,1006" marker-end="url(#zm)"/>
<g id="labels">
<rect class="lbbg" x="140" y="48.5" width="22" height="14"/><text class="lb" x="151" y="60">role</text>
<rect class="lbbg" x="305.5" y="34.5" width="22" height="14"/><text class="lb" x="316.5" y="45.5">role</text>
</g>
</g>
</svg>
